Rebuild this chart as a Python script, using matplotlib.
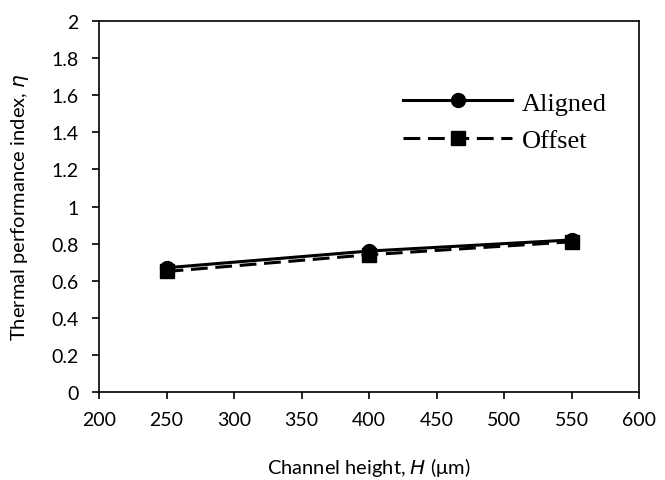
import matplotlib
matplotlib.use('Agg')

import matplotlib.pyplot as plt

# Data
heights = [250, 400, 550]
aligned = [0.67, 0.76, 0.82]
offset = [0.65, 0.74, 0.81]

x_ticks = [200, 250, 300, 350, 400, 450, 500, 550, 600]
y_ticks = [0, 0.2, 0.4, 0.6, 0.8, 1, 1.2, 1.4, 1.6, 1.8, 2]
y_tick_labels = ['0', '0.2', '0.4', '0.6', '0.8', '1', '1.2', '1.4', '1.6', '1.8', '2']

plt.rcParams['font.family'] = ['Lato', 'DejaVu Sans']

fig = plt.figure(figsize=(6.65, 4.81), dpi=100)
ax = fig.add_axes([0.149, 0.183, 0.812, 0.771])

ax.plot(heights, offset, color='black', linewidth=2.2, linestyle=(0, (5.5, 2.5)),
        marker='s', markersize=10, label='Offset')
ax.plot(heights, aligned, color='black', linewidth=2.2, linestyle='-',
        marker='o', markersize=10, label='Aligned')

ax.set_xlim(200, 600)
ax.set_ylim(0, 2)
ax.set_xticks(x_ticks)
ax.set_yticks(y_ticks)
ax.set_yticklabels(y_tick_labels)
ax.tick_params(direction='out', length=5, width=1.2, labelsize=14, colors='black')
ax.tick_params(axis='x', pad=9)
ax.tick_params(axis='y', pad=10)
for s in ax.spines.values():
    s.set_linewidth(1.2)

ax.set_xlabel('Channel height, $\\mathit{H}$ (\u03bcm)', fontsize=14.5, labelpad=19)
ax.set_ylabel('Thermal performance index, $\\mathit{\\eta}$', fontsize=14.5, labelpad=14)

handles, labels = ax.get_legend_handles_labels()
leg = ax.legend(handles[::-1], labels[::-1], loc='upper right', frameon=False,
                prop={'family': 'Liberation Serif', 'size': 19},
                handlelength=4.1, handletextpad=0.4, labelspacing=0.52,
                bbox_to_anchor=(0.985, 0.875))

plt.savefig('out.png', dpi=100)
